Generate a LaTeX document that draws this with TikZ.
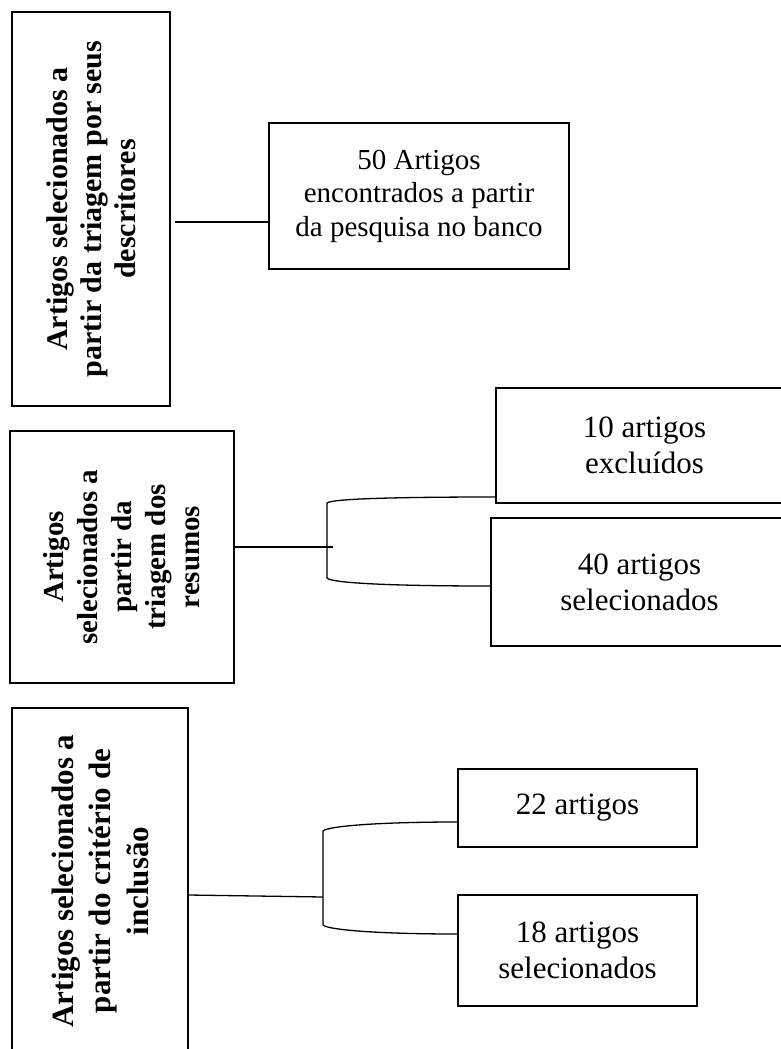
\documentclass[tikz,border=0pt]{standalone}
\usepackage{fontspec}
\setmainfont{Liberation Serif}
\tikzset{
  every node/.style={inner sep=0pt},
  box/.style={draw, line width=1.5pt, align=center},
  lbl/.style={box, rotate=90, font=\fontsize{30}{34}\selectfont\bfseries},
  txt/.style={box, font=\fontsize{31}{36}\selectfont},
  conn/.style={line width=1.3pt},
}
\begin{document}
\begin{tikzpicture}[x=1pt,y=-1pt]
\useasboundingbox (0,0) rectangle (781,1049);

% top row
\node[lbl, minimum width=394pt, minimum height=158pt] (b1) at (91,209)
  {Artigos selecionados a\\partir da triagem por seus\\descritores};
\node[box, minimum width=300pt, minimum height=146pt, font=\fontsize{29}{33.5}\selectfont] (b2) at (419,196)
  {50 Artigos\\encontrados a partir\\da pesquisa no banco};
\coordinate (c1) at (175,222);
\draw[conn] (c1) -- (b2.west |- c1);

% middle row
\node[lbl, minimum width=252pt, minimum height=224pt, font=\fontsize{29}{34}\selectfont\bfseries] (b4) at (122,557)
  {Artigos\\selecionados a\\partir da\\triagem dos\\resumos};
\node[txt, minimum width=297pt, minimum height=115pt] (b5) at (644.5,445.5) {10 artigos\\excluídos};
\node[txt, minimum width=297pt, minimum height=128pt] (b6) at (639.5,582) {40 artigos\\selecionados};
\coordinate (m1) at (333,547);
\coordinate (t1) at (327,503);
\coordinate (t2) at (327,578);
\draw[conn] (b4.south |- m1) -- (m1);
\draw[conn] ([yshift=-51.5pt]b5.west) .. controls (390,497) and (331,499) .. (t1)
  -- (t2) .. controls (331,583) and (390,586) .. ([yshift=-4pt]b6.west);

% bottom row
\node[lbl, minimum width=346pt, minimum height=176pt, font=\fontsize{31}{37.5}\selectfont\bfseries] (b3) at (100,881)
  {Artigos selecionados a\\partir do critério de\\inclusão};
\node[txt, minimum width=239pt, minimum height=78pt] (b7) at (577.5,808) {22 artigos};
\node[txt, minimum width=239pt, minimum height=111pt] (b8) at (577.5,950.5) {18 artigos\\selecionados};
\coordinate (m2) at (323,897);
\coordinate (t3) at (323,831);
\coordinate (t4) at (323,925);
\draw[conn] ([yshift=-14pt]b3.south) -- (m2);
\draw[conn] ([yshift=-14pt]b7.west) .. controls (380,822) and (328,826) .. (t3)
  -- (t4) .. controls (328,930) and (380,934) .. ([yshift=16.5pt]b8.west);
\end{tikzpicture}
\end{document}
